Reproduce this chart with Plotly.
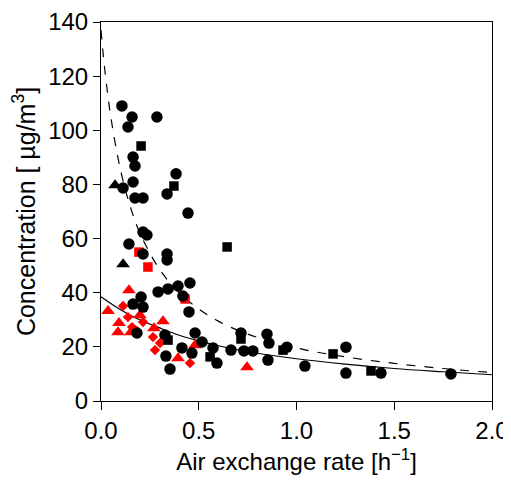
import plotly.graph_objects as go

# Black circles
circ_x = [0.107, 0.159, 0.286, 0.138, 0.164, 0.174, 0.384, 0.164, 0.113, 0.174, 0.215, 0.338,
          0.445, 0.215, 0.235, 0.143, 0.215, 0.338, 0.338, 0.292, 0.343, 0.394, 0.455, 0.419,
          0.450, 0.205, 0.164, 0.215, 0.184, 0.327, 0.332, 0.353, 0.414, 0.465, 0.481, 0.517,
          0.573, 0.593, 0.665, 0.731, 0.777, 0.716, 0.849, 0.859, 0.854, 0.951, 1.043, 1.253,
          1.253, 1.432, 1.790]
circ_y = [109.0, 104.9, 104.9, 101.2, 90.1, 86.8, 83.9, 80.9, 78.7, 75.0, 75.0, 76.5,
          69.4, 62.4, 61.3, 58.0, 54.3, 54.3, 52.1, 40.3, 41.4, 42.5, 43.6, 38.8,
          32.9, 38.4, 35.8, 34.7, 25.1, 24.4, 16.6, 11.8, 19.6, 17.7, 25.1, 21.8,
          19.6, 14.0, 18.8, 18.5, 18.5, 25.1, 24.7, 21.4, 15.1, 19.9, 12.9, 19.9,
          10.3, 10.3, 10.0]

# Black squares
sq_x = [0.205, 0.373, 0.645, 0.343, 0.558, 0.716, 0.931, 1.187, 1.381]
sq_y = [94.2, 79.4, 56.9, 22.5, 16.3, 22.9, 18.8, 17.4, 11.1]

# Black triangles
tri_x = [0.072, 0.113]
tri_y = [79.7, 50.5]

# Red triangles
rtri_x = [0.036, 0.143, 0.092, 0.087, 0.153, 0.199, 0.271, 0.317, 0.394, 0.481, 0.747]
rtri_y = [33.2, 40.9, 28.8, 25.4, 25.4, 31.7, 26.9, 29.5, 15.8, 20.6, 12.5]

# Red diamonds
rdia_x = [0.113, 0.138, 0.159, 0.184, 0.215, 0.266, 0.302, 0.276, 0.414, 0.455]
rdia_y = [35.1, 31.0, 27.3, 25.9, 29.2, 23.6, 21.4, 18.8, 19.6, 14.0]

# Red squares
rsq_x = [0.194, 0.240, 0.430]
rsq_y = [55.0, 49.5, 37.7]

# Fitted curves
dash_x = [0.0, 0.01, 0.02, 0.05, 0.1, 0.15, 0.2, 0.3, 0.4, 0.5, 0.6, 0.75, 1.0, 1.25, 1.5, 1.75, 2.0]
dash_y = [137.0, 129.0, 122.0, 105.0, 85.3, 71.7, 61.9, 48.6, 40.0, 34.0, 29.5, 24.7, 19.6, 16.3, 13.9, 12.0, 10.5]
solid_x = [0.0, 0.1, 0.2, 0.3, 0.4, 0.5, 0.6, 0.75, 1.0, 1.25, 1.5, 1.75, 2.0]
solid_y = [38.5, 33.7, 29.9, 27.0, 24.3, 22.2, 20.4, 18.2, 15.6, 13.6, 12.0, 10.8, 9.7]

RED = "#FF0000"
fig = go.Figure()
fig.add_trace(go.Scatter(x=dash_x, y=dash_y, mode="lines", line=dict(color="black", width=1.2, dash="dash", shape="spline")))
fig.add_trace(go.Scatter(x=solid_x, y=solid_y, mode="lines", line=dict(color="black", width=1.2, shape="spline")))
fig.add_trace(go.Scatter(x=rtri_x, y=rtri_y, mode="markers", marker=dict(symbol="triangle-up", size=12, color=RED)))
fig.add_trace(go.Scatter(x=rdia_x, y=rdia_y, mode="markers", marker=dict(symbol="diamond", size=8, color=RED)))
fig.add_trace(go.Scatter(x=rsq_x, y=rsq_y, mode="markers", marker=dict(symbol="square", size=9.5, color=RED)))
fig.add_trace(go.Scatter(x=circ_x, y=circ_y, mode="markers", marker=dict(symbol="circle", size=11.5, color="black")))
fig.add_trace(go.Scatter(x=sq_x, y=sq_y, mode="markers", marker=dict(symbol="square", size=9.5, color="black")))
fig.add_trace(go.Scatter(x=tri_x, y=tri_y, mode="markers", marker=dict(symbol="triangle-up", size=12, color="black")))

FONT = "Liberation Sans, Arial, sans-serif"
TICKFONT = dict(family=FONT, size=24, color="black")
XTITLEFONT = dict(family=FONT, size=24, color="black")
YTITLEFONT = dict(family=FONT, size=25, color="black")
# The page body adds an 8 px offset; the figure is sized so the plot area lands where the reference has it.
fig.update_layout(
    width=503, height=474,
    margin=dict(l=93, r=19, t=14, b=81, autoexpand=False),
    paper_bgcolor="white", plot_bgcolor="white",
    showlegend=False,
    font=dict(family=FONT, size=22, color="black"),
    xaxis=dict(range=[0, 2.0], tickvals=[0, 0.5, 1.0, 1.5, 2.0], ticktext=["0.0", "0.5", "1.0", "1.5", "2.0"],
               ticks="outside", ticklen=8, tickwidth=1, tickcolor="black", tickfont=TICKFONT,
               showline=True, linecolor="black", linewidth=1, mirror=True,
               showgrid=False, zeroline=False, automargin=False,
               title=dict(text="Air exchange rate [h<sup>−1</sup>]", standoff=10, font=XTITLEFONT)),
    yaxis=dict(range=[0, 140], tickvals=[0, 20, 40, 60, 80, 100, 120, 140],
               ticks="outside", ticklen=7, tickwidth=1, tickcolor="black", tickfont=TICKFONT,
               showline=True, linecolor="black", linewidth=1, mirror=True,
               showgrid=False, zeroline=False, automargin=False,
               title=dict(text="Concentration [ µg/m<sup>3</sup>]", standoff=7, font=YTITLEFONT)),
)
fig.write_html("out.html")
